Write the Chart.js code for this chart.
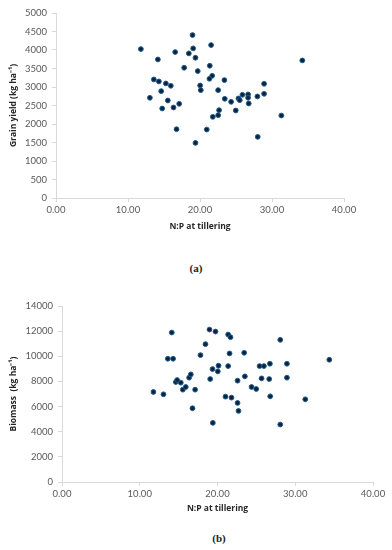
<!DOCTYPE html>
<html>
<head>
<meta charset="utf-8">
<script src="https://cdn.jsdelivr.net/npm/chart.js@4.4.1/dist/chart.umd.min.js"></script>
<style>
  html, body { margin:0; padding:0; background:#fff; width:392px; height:550px; overflow:hidden; }
  .wrap { position:absolute; left:0; width:392px; }
  .cap { position:absolute; font-family:"Liberation Serif", serif; font-weight:bold; font-size:11px; color:#222; transform:translate(-50%,-50%); white-space:nowrap; }
</style>
</head>
<body>
<div class="wrap" style="top:0;height:240px;"><canvas id="ca" width="392" height="240"></canvas></div>
<div class="cap" style="left:196px;top:268px;">(a)</div>
<div class="wrap" style="top:280px;height:245px;"><canvas id="cb" width="392" height="245"></canvas></div>
<div class="cap" style="left:219px;top:538px;">(b)</div>
<script>
// (a) Grain yield vs N:P at tillering
const npA = [11.79,14.15,18.96,19.05,21.54,16.55,18.45,19.37,34.21,17.80,19.69,21.36,21.69,21.31,13.59,14.29,15.26,15.95,23.39,20.02,20.11,22.52,28.90,14.61,13.04,15.53,14.75,16.32,17.11,23.44,24.32,25.34,25.52,25.89,26.68,26.68,26.77,27.97,28.90,24.97,22.65,22.52,21.78,31.30,16.74,20.94,28.02,19.37];
const grainYield = [4025,3745,4404,4043,4133,3944,3908,3790,3718,3520,3430,3574,3303,3222,3204,3150,3096,3032,3186,3041,2915,2915,3087,2888,2708,2635,2419,2446,2545,2680,2599,2690,2644,2789,2798,2708,2554,2744,2816,2365,2374,2238,2193,2229,1859,1850,1652,1489];
// (b) Biomass vs N:P at tillering
const npB = [11.76,13.05,13.61,14.29,14.12,14.64,14.81,15.28,15.54,15.92,16.35,16.57,17.12,16.78,17.81,18.45,18.97,19.74,19.06,19.36,20.13,20.04,21.37,21.67,21.55,21.37,21.03,21.80,22.58,22.58,22.70,23.43,23.52,24.38,24.98,25.41,25.97,26.74,25.67,26.65,26.78,28.07,28.93,28.93,31.29,34.38,19.40,28.07];
const biomass = [7160,6975,9802,9802,11889,7952,8111,7900,7345,7556,8296,8560,7345,5865,10092,10964,12127,11968,8190,8983,9247,8798,11730,11519,10225,9221,6790,6711,8058,6288,5654,10277,8402,7556,7398,9221,9221,9406,8243,8190,6816,11308,9406,8296,6579,9723,4703,4571];
const xTicks = [0,10,20,30,40];
const yTicksA = [0,500,1000,1500,2000,2500,3000,3500,4000,4500,5000];
const yTicksB = [0,2000,4000,6000,8000,10000,12000,14000];

const tickFont = { family: "Lato, 'Open Sans', sans-serif", size: 9.5 };
const titleFont = { family: "'Open Sans', sans-serif", size: 8.5, weight: 'bold' };
const axisColor = '#d9d9d9';

function makeChart(id, xs, ys, yMax, yTicks, yTitle, pad, yWidth, xHeight, xTitlePad) {
  const pts = xs.map((x, i) => ({ x: x, y: ys[i] }));
  return new Chart(document.getElementById(id), {
    type: 'scatter',
    data: { datasets: [{ data: pts, backgroundColor: '#0a2440', borderColor: '#1d5b8c', borderWidth: 1, pointRadius: 2.4, pointHoverRadius: 2.4 }] },
    options: {
      responsive: false, animation: false,
      layout: { padding: pad },
      plugins: { legend: { display: false }, tooltip: { enabled: false } },
      scales: {
        x: {
          type: 'linear', min: 0, max: 40,
          afterBuildTicks: (s) => { s.ticks = xTicks.map(v => ({ value: v })); },
          afterFit: (s) => { s.height = xHeight; },
          ticks: { color: '#595959', font: tickFont, padding: 2, maxRotation: 0, callback: (v) => v.toFixed(2) },
          grid: { drawOnChartArea: false, drawTicks: true, tickLength: 4, color: axisColor },
          border: { color: axisColor },
          title: { display: true, text: 'N:P at tillering', color: '#262626', font: titleFont, padding: { top: 0, bottom: xTitlePad } }
        },
        y: {
          type: 'linear', min: 0, max: yMax,
          afterBuildTicks: (s) => { s.ticks = yTicks.map(v => ({ value: v })); },
          afterFit: (s) => { s.width = yWidth; },
          ticks: { color: '#595959', font: tickFont, padding: 5, callback: (v) => String(v) },
          grid: { drawOnChartArea: false, drawTicks: true, tickLength: 4, color: axisColor },
          border: { color: axisColor },
          title: { display: true, text: yTitle, color: '#262626', font: titleFont, padding: { top: 8, bottom: 0 } }
        }
      }
    }
  });
}

makeChart('ca', npA, grainYield, 5000, yTicksA, 'Grain yield (kg ha\u207B\u00B9)', { top: 13, right: 48, bottom: 2, left: 0 }, 56, 40, 6);
makeChart('cb', npB, biomass, 14000, yTicksB, 'Biomass  (kg ha\u207B\u00B9)', { top: 26, right: 19, bottom: 3, left: 0 }, 62, 40, 8);
</script>
</body>
</html>
